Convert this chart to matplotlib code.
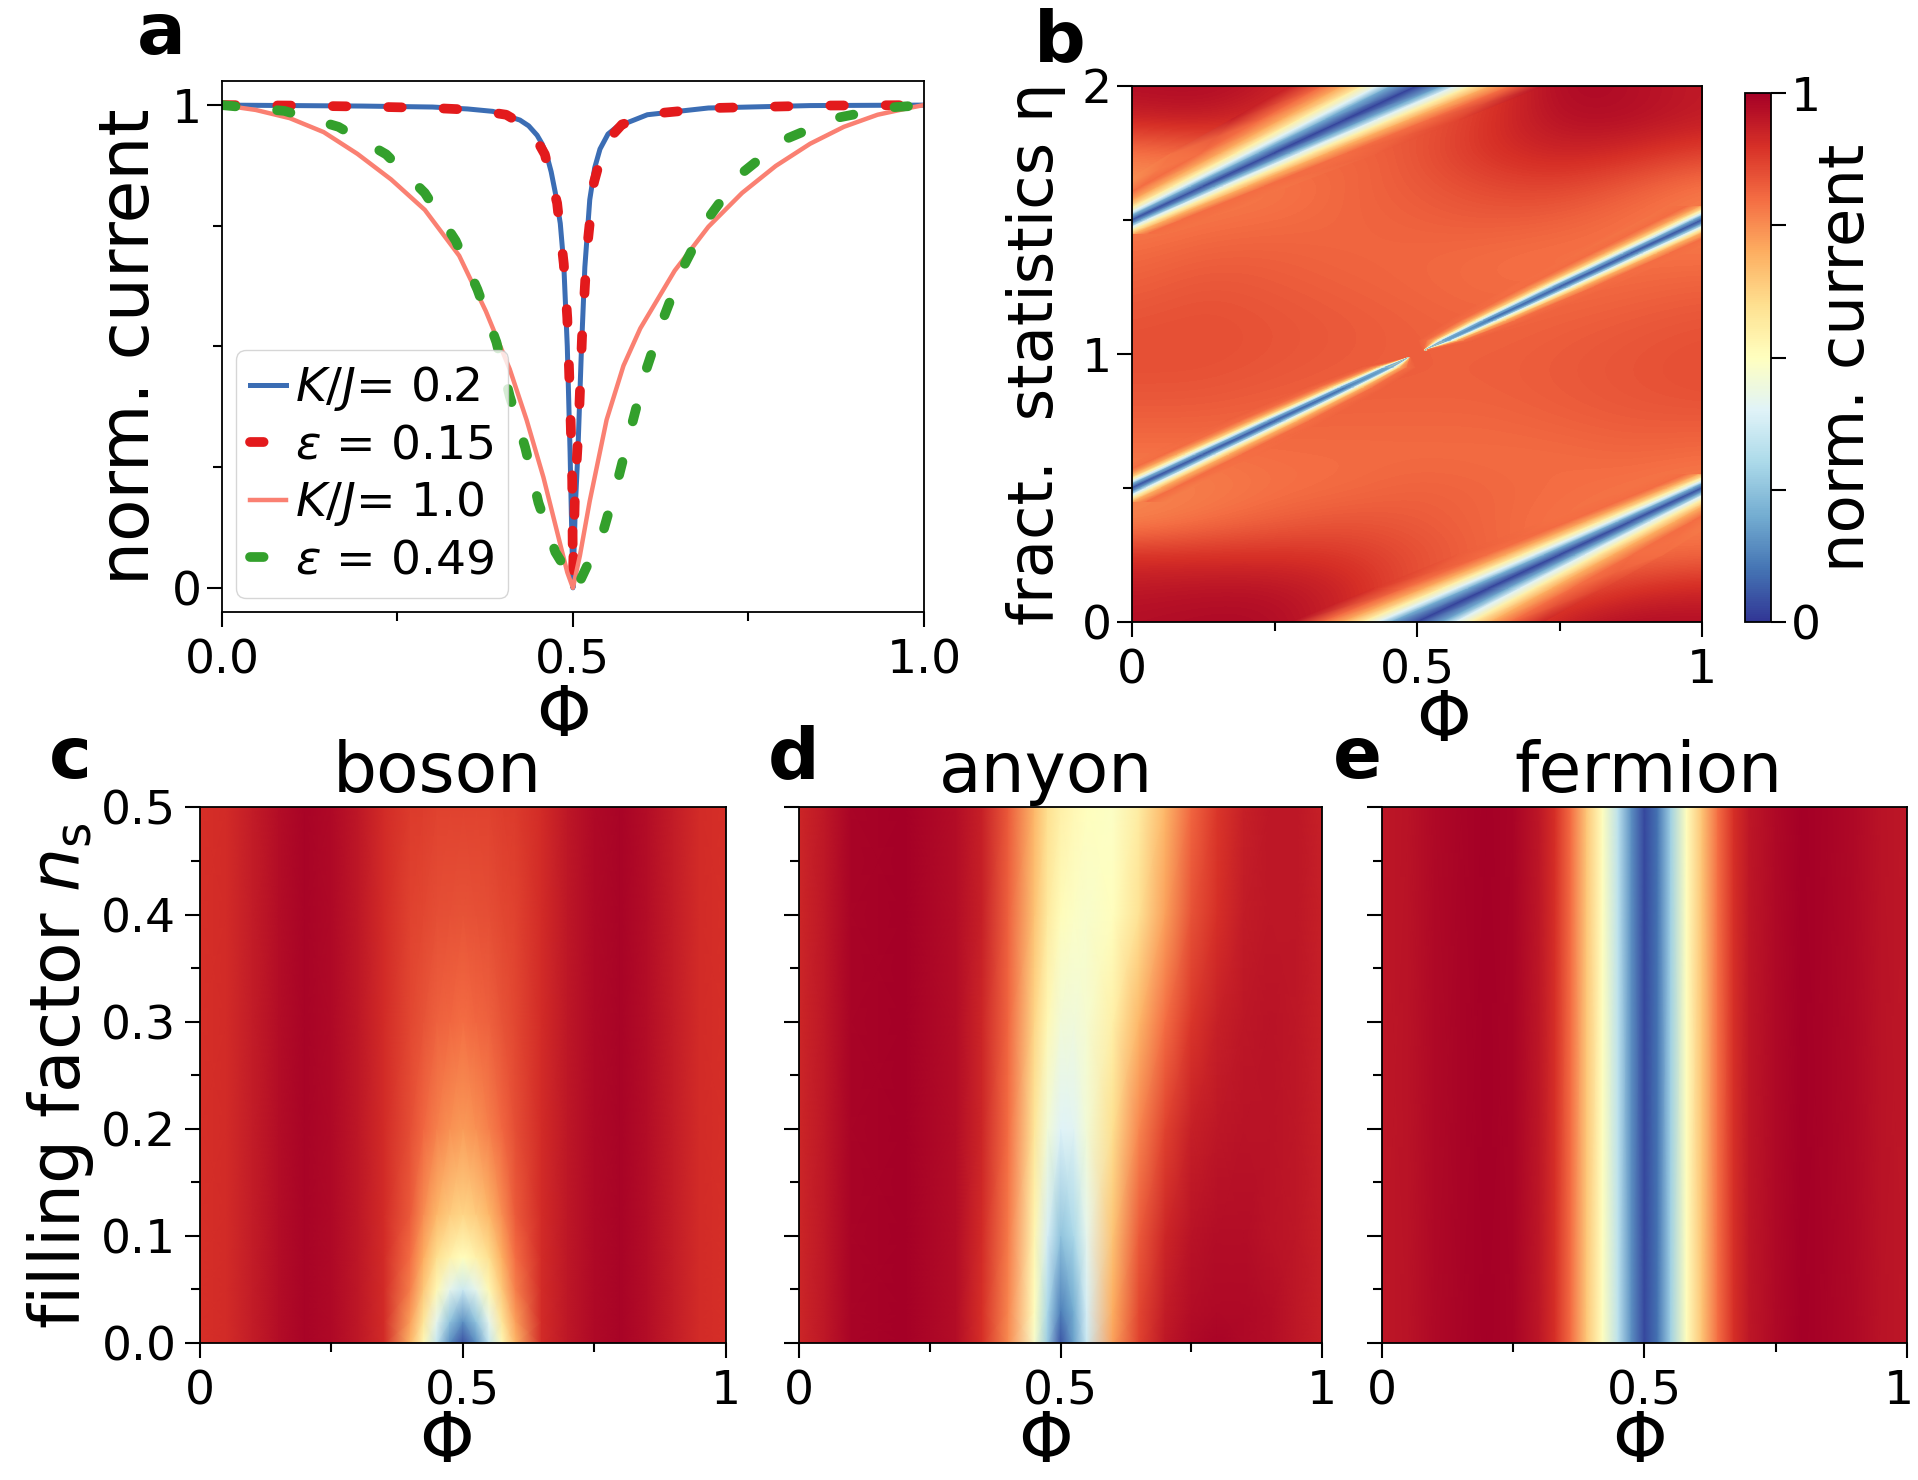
import matplotlib
matplotlib.use("Agg")
import matplotlib.pyplot as plt
from matplotlib.transforms import ScaledTranslation
import numpy as np

plt.rcParams['font.family'] = ['DejaVu Sans']
plt.rcParams['mathtext.fontset'] = 'dejavusans'

# ---------------- panel a : norm. current vs flux
phi_kj02 = [0, 0.1, 0.2, 0.3, 0.35, 0.386, 0.4245, 0.437, 0.449, 0.456, 0.463, 0.469, 0.475,
            0.482, 0.487, 0.492, 0.496, 0.5, 0.5035, 0.507, 0.512, 0.517, 0.524, 0.531,
            0.5386, 0.55, 0.5627, 0.606, 0.693, 0.838, 1.0]
cur_kj02 = [1.0, 0.999, 0.998, 0.996, 0.992, 0.987, 0.969, 0.957, 0.9375, 0.92, 0.895, 0.862, 0.818,
            0.755, 0.67, 0.50, 0.28, 0.0, 0.17, 0.278, 0.488, 0.664, 0.804, 0.87,
            0.909, 0.94, 0.955, 0.98, 0.994, 0.999, 1.0]

phi_eps015 = [0, 0.1, 0.2, 0.3, 0.36, 0.405, 0.44, 0.46, 0.4775, 0.487, 0.492, 0.4945,
              0.497, 0.499, 0.5, 0.503, 0.508, 0.513, 0.52, 0.53, 0.545, 0.57, 0.62,
              0.7, 0.85, 1.0]
cur_eps015 = [1.0, 0.999, 0.997, 0.994, 0.99, 0.98, 0.95, 0.898, 0.797, 0.671, 0.559, 0.453,
              0.334, 0.222, 0.02, 0.2, 0.33, 0.52, 0.70, 0.84, 0.92, 0.96, 0.983,
              0.994, 0.999, 1.0]

phi_kj10 = [0, 0.048, 0.0965, 0.145, 0.193, 0.241, 0.289, 0.338, 0.376, 0.41, 0.434,
            0.458, 0.4775, 0.492, 0.5, 0.51, 0.524, 0.548, 0.572, 0.596, 0.645, 0.693,
            0.741, 0.789, 0.838, 0.886, 0.934, 0.982, 1.0]
cur_kj10 = [1.0, 0.99, 0.973, 0.944, 0.899, 0.846, 0.783, 0.688, 0.573, 0.453, 0.348,
            0.229, 0.116, 0.032, 0.0, 0.067, 0.18, 0.348, 0.46, 0.5375, 0.657, 0.748,
            0.818, 0.874, 0.92, 0.955, 0.98, 0.995, 1.0]

phi_eps049 = [0.0, 0.089, 0.166, 0.234, 0.289, 0.333, 0.364, 0.391, 0.41, 0.432, 0.451,
              0.475, 0.506, 0.512, 0.543, 0.565, 0.584, 0.604, 0.628, 0.657, 0.693,
              0.739, 0.799, 0.874, 0.951, 1.0]
cur_eps049 = [1.0, 0.988, 0.955, 0.898, 0.818, 0.719, 0.618, 0.509, 0.397, 0.291, 0.176,
              0.074, 0.0, 0.02, 0.116, 0.229, 0.338, 0.45, 0.555, 0.664, 0.766,
              0.857, 0.927, 0.973, 0.995, 1.0]

# ---------------- panel b : background map (phi x eta)
b_phi = [0, 0.125, 0.25, 0.375, 0.5, 0.625, 0.75, 0.875, 1.0]
b_eta = [0, 0.125, 0.25, 0.375, 0.5, 0.625, 0.75, 0.875, 1.0,
         1.125, 1.25, 1.375, 1.5, 1.625, 1.75, 1.875, 2.0]
b_current = [
    [0.97, 0.98, 0.98, 0.92, 0.82, 0.82, 0.95, 0.98, 0.97],
    [0.95, 0.96, 0.96, 0.93, 0.84, 0.80, 0.82, 0.90, 0.92],
    [0.90, 0.90, 0.90, 0.89, 0.85, 0.81, 0.79, 0.79, 0.81],
    [0.75, 0.79, 0.82, 0.84, 0.83, 0.81, 0.79, 0.78, 0.77],
    [0.77, 0.77, 0.79, 0.80, 0.82, 0.81, 0.80, 0.79, 0.77],
    [0.79, 0.79, 0.80, 0.80, 0.80, 0.80, 0.80, 0.81, 0.80],
    [0.82, 0.82, 0.81, 0.81, 0.81, 0.81, 0.82, 0.83, 0.83],
    [0.84, 0.84, 0.83, 0.82, 0.82, 0.82, 0.83, 0.84, 0.85],
    [0.85, 0.85, 0.84, 0.83, 0.82, 0.82, 0.83, 0.84, 0.85],
    [0.84, 0.85, 0.84, 0.83, 0.82, 0.81, 0.82, 0.83, 0.84],
    [0.82, 0.84, 0.83, 0.82, 0.81, 0.80, 0.80, 0.81, 0.82],
    [0.80, 0.82, 0.82, 0.81, 0.81, 0.80, 0.79, 0.79, 0.79],
    [0.77, 0.79, 0.80, 0.81, 0.82, 0.83, 0.82, 0.79, 0.77],
    [0.73, 0.77, 0.78, 0.81, 0.83, 0.86, 0.87, 0.83, 0.78],
    [0.78, 0.80, 0.82, 0.80, 0.84, 0.90, 0.93, 0.91, 0.87],
    [0.93, 0.95, 0.90, 0.84, 0.82, 0.90, 0.97, 0.97, 0.94],
    [0.97, 0.98, 0.95, 0.86, 0.82, 0.87, 0.99, 0.97, 0.94],
]

# dips in panel b run along eta = phi + shift; for every eta node the
# half width (in phi) where the current reaches each level; the last
# width is where the dip has merged into the background
dip_levels = [0.2, 0.4, 0.55, 0.7, 0.8]

top_shift = 1.5
top_eta = [1.45, 1.5, 1.625, 1.75, 1.875, 2.0, 2.05]
top_core = [0.05, 0.05, 0.04, 0.03, 0.02, 0.02, 0.02]
top_half = [[0.015, 0.025, 0.037, 0.056, 0.080, 0.11],
            [0.016, 0.027, 0.041, 0.061, 0.087, 0.12],
            [0.021, 0.035, 0.053, 0.078, 0.108, 0.15],
            [0.027, 0.045, 0.066, 0.094, 0.128, 0.18],
            [0.035, 0.056, 0.081, 0.112, 0.147, 0.20],
            [0.045, 0.068, 0.095, 0.130, 0.165, 0.22],
            [0.048, 0.072, 0.102, 0.138, 0.175, 0.23]]

bot_shift = -0.5
bot_eta = [-0.05, 0.0, 0.125, 0.25, 0.375, 0.5, 0.55]
bot_core = [0.02, 0.02, 0.02, 0.03, 0.04, 0.05, 0.05]
bot_half = [[0.048, 0.072, 0.102, 0.138, 0.175, 0.23],
            [0.045, 0.068, 0.095, 0.130, 0.165, 0.22],
            [0.035, 0.056, 0.081, 0.112, 0.147, 0.20],
            [0.027, 0.045, 0.066, 0.094, 0.128, 0.18],
            [0.021, 0.035, 0.053, 0.078, 0.108, 0.15],
            [0.016, 0.027, 0.041, 0.061, 0.087, 0.12],
            [0.015, 0.025, 0.037, 0.056, 0.080, 0.11]]

mid_shift = 0.5
mid_lo_eta = [0.45, 0.5, 0.625, 0.75, 0.875, 0.95, 0.985]
mid_lo_core = [0.05, 0.05, 0.06, 0.07, 0.10, 0.2, 0.6]
mid_lo_half = [[0.016, 0.026, 0.037, 0.053, 0.077, 0.11],
               [0.015, 0.025, 0.036, 0.051, 0.075, 0.105],
               [0.013, 0.022, 0.032, 0.046, 0.068, 0.095],
               [0.012, 0.020, 0.028, 0.041, 0.061, 0.085],
               [0.009, 0.015, 0.022, 0.032, 0.048, 0.068],
               [0.006, 0.010, 0.015, 0.021, 0.033, 0.047],
               [0.0005, 0.001, 0.0015, 0.002, 0.003, 0.005]]
mid_hi_eta = [1.015, 1.05, 1.125, 1.25, 1.375, 1.5, 1.55]
mid_hi_core = [0.6, 0.2, 0.10, 0.07, 0.06, 0.05, 0.05]
mid_hi_half = [[0.0005, 0.001, 0.0015, 0.002, 0.003, 0.005],
               [0.006, 0.010, 0.015, 0.021, 0.033, 0.047],
               [0.009, 0.015, 0.022, 0.032, 0.048, 0.068],
               [0.012, 0.020, 0.028, 0.041, 0.061, 0.085],
               [0.013, 0.022, 0.032, 0.046, 0.068, 0.095],
               [0.015, 0.025, 0.036, 0.051, 0.075, 0.105],
               [0.016, 0.026, 0.037, 0.053, 0.077, 0.11]]

# ---------------- panel c : boson
c_phi = [0, 0.05, 0.1, 0.15, 0.2, 0.25, 0.3, 0.35, 0.4, 0.425, 0.45, 0.475, 0.5,
         0.525, 0.55, 0.575, 0.6, 0.65, 0.7, 0.75, 0.8, 0.85, 0.9, 0.95, 1.0]
c_ns = [0, 0.02, 0.05, 0.08, 0.12, 0.2, 0.3, 0.4, 0.5]
c_left = [0.90, 0.91, 0.94, 0.97, 0.99, 0.98, 0.95, 0.91]
c_right = [0.91, 0.95, 0.98, 0.99, 0.97, 0.94, 0.91, 0.90]
c_center = [
    [0.68, 0.52, 0.35, 0.15, 0.04, 0.15, 0.35, 0.52, 0.68],
    [0.72, 0.58, 0.42, 0.25, 0.15, 0.25, 0.42, 0.58, 0.72],
    [0.77, 0.65, 0.52, 0.42, 0.36, 0.42, 0.52, 0.65, 0.77],
    [0.80, 0.70, 0.60, 0.54, 0.50, 0.54, 0.60, 0.70, 0.80],
    [0.83, 0.75, 0.68, 0.64, 0.62, 0.64, 0.68, 0.75, 0.83],
    [0.85, 0.81, 0.77, 0.745, 0.73, 0.745, 0.77, 0.81, 0.85],
    [0.86, 0.84, 0.82, 0.81, 0.80, 0.81, 0.82, 0.84, 0.86],
    [0.87, 0.86, 0.85, 0.845, 0.84, 0.845, 0.85, 0.86, 0.87],
    [0.88, 0.875, 0.87, 0.87, 0.87, 0.87, 0.87, 0.875, 0.88],
]

# ---------------- panel d : anyon
d_phi = [0, 0.05, 0.1, 0.2, 0.3, 0.35, 0.4, 0.45, 0.475, 0.5, 0.525, 0.55, 0.6,
         0.65, 0.7, 0.75, 0.8, 0.85, 0.9, 0.95, 1.0]
d_ns = [0, 0.03, 0.1, 0.2, 0.3, 0.4, 0.5]
d_current = [
    [0.92, 0.95, 0.99, 1.0, 0.97, 0.90, 0.75, 0.48, 0.27, 0.05, 0.18, 0.36, 0.72, 0.87, 0.95, 0.98, 0.99, 0.98, 0.97, 0.95, 0.93],
    [0.92, 0.95, 0.99, 1.0, 0.97, 0.90, 0.76, 0.50, 0.30, 0.12, 0.20, 0.38, 0.70, 0.86, 0.94, 0.97, 0.98, 0.98, 0.97, 0.95, 0.93],
    [0.92, 0.95, 0.99, 1.0, 0.97, 0.91, 0.78, 0.53, 0.38, 0.25, 0.30, 0.42, 0.66, 0.83, 0.92, 0.96, 0.97, 0.97, 0.96, 0.95, 0.93],
    [0.92, 0.95, 0.99, 1.0, 0.97, 0.92, 0.80, 0.58, 0.46, 0.40, 0.41, 0.46, 0.60, 0.76, 0.87, 0.93, 0.95, 0.96, 0.96, 0.95, 0.93],
    [0.92, 0.95, 0.99, 1.0, 0.97, 0.92, 0.81, 0.62, 0.52, 0.46, 0.45, 0.47, 0.55, 0.68, 0.80, 0.89, 0.93, 0.95, 0.96, 0.95, 0.93],
    [0.92, 0.95, 0.99, 1.0, 0.97, 0.93, 0.82, 0.66, 0.57, 0.51, 0.49, 0.48, 0.50, 0.59, 0.72, 0.84, 0.90, 0.94, 0.95, 0.95, 0.93],
    [0.92, 0.95, 0.99, 1.0, 0.97, 0.93, 0.83, 0.68, 0.60, 0.55, 0.52, 0.50, 0.49, 0.56, 0.68, 0.81, 0.89, 0.93, 0.95, 0.95, 0.93],
]

# ---------------- panel e : fermion (no dependence on n_s)
e_phi = [0, 0.05, 0.1, 0.15, 0.2, 0.25, 0.3, 0.33, 0.36, 0.39, 0.42, 0.45, 0.475, 0.5,
         0.525, 0.55, 0.58, 0.61, 0.64, 0.67, 0.7, 0.75, 0.8, 0.85, 0.9, 0.95, 1.0]
e_ns = [0, 0.5]
e_profile = [0.95, 0.96, 0.98, 0.99, 1.0, 0.99, 0.95, 0.90, 0.80, 0.65, 0.50, 0.33, 0.15, 0.03,
             0.10, 0.28, 0.50, 0.66, 0.80, 0.90, 0.95, 0.98, 1.0, 0.99, 0.98, 0.96, 0.95]

cmap = 'RdYlBu_r'
tick_fs = 34
lab_fs = 50

fig = plt.figure(figsize=(19.18, 14.80), dpi=100)


def ticks(ax):
    ax.tick_params(which='major', length=11, width=1.5, labelsize=tick_fs)
    ax.tick_params(which='minor', length=6.5, width=1.5)
    ax.tick_params(axis='x', which='major', pad=8)
    for s in ax.spines.values():
        s.set_linewidth(1.3)


# ---- a
ax = fig.add_axes([0.1157, 0.5865, 0.366, 0.3588])
ax.plot(phi_kj02, cur_kj02, color='#3b6db4', lw=3.6, label=r'$K/J$= 0.2')
ax.plot(phi_eps015, cur_eps015, color='#e31a1c', lw=7, dashes=(1.4, 4.3),
        dash_capstyle='round', label=r'$\varepsilon$ = 0.15')
ax.plot(phi_kj10, cur_kj10, color='#fa8072', lw=3.2, label=r'$K/J$= 1.0')
ax.plot(phi_eps049, cur_eps049, color='#33a02c', lw=7, dashes=(1.4, 4.3),
        dash_capstyle='round', label=r'$\varepsilon$ = 0.49')
ax.set_xlim(0, 1)
ax.set_ylim(-0.05, 1.05)
ax.set_xticks([0, 0.5, 1])
ax.set_xticklabels(['0.0', '0.5', '1.0'])
ax.set_xticks([0.25, 0.75], minor=True)
ax.set_yticks([0, 1])
ax.set_yticklabels(['0', '1'])
ax.set_yticks([0.25, 0.5, 0.75], minor=True)
ticks(ax)
ax.set_xlabel('Φ', fontsize=lab_fs, labelpad=0)
ax.xaxis.label.set_x(0.487)
ax.set_ylabel('norm. current', fontsize=lab_fs, labelpad=6)
ax.legend(loc='lower left', fontsize=34, handlelength=0.75, handletextpad=0.2,
          labelspacing=0.22, borderpad=0.3, borderaxespad=0.3)

# ---- b
ax = fig.add_axes([0.5902, 0.5797, 0.2972, 0.3622])
dphi = b_phi[1] - b_phi[0]
deta = b_eta[1] - b_eta[0]
bg = ax.imshow(np.array(b_current), origin='lower', aspect='auto', cmap=cmap, vmin=0, vmax=1,
               interpolation='bicubic',
               extent=(b_phi[0] - dphi / 2, b_phi[-1] + dphi / 2, b_eta[0] - deta / 2, b_eta[-1] + deta / 2))


def bg_value(phi, eta):
    # bilinear lookup in the panel b table, so the dip edges blend in
    Z = np.array(b_current)
    fi = np.clip((np.asarray(phi) - b_phi[0]) / dphi, 0, len(b_phi) - 1)
    fj = np.clip((np.asarray(eta) - b_eta[0]) / deta, 0, len(b_eta) - 1)
    i0 = np.minimum(fi.astype(int), len(b_phi) - 2)
    j0 = np.minimum(fj.astype(int), len(b_eta) - 2)
    ti = fi - i0
    tj = fj - j0
    return (Z[j0, i0] * (1 - ti) * (1 - tj) + Z[j0, i0 + 1] * ti * (1 - tj)
            + Z[j0 + 1, i0] * (1 - ti) * tj + Z[j0 + 1, i0 + 1] * ti * tj)


def dip(ax, shift, eta, core, half):
    eta = np.asarray(eta, float)
    half = np.asarray(half, float)
    n = len(eta)
    offs = np.hstack([-half[:, ::-1], np.zeros((n, 1)), half])
    X = eta[:, None] - shift + offs
    Y = np.repeat(eta[:, None], offs.shape[1], axis=1)
    lev = np.tile(dip_levels, (n, 1))
    C = np.hstack([bg_value(X[:, :1], Y[:, :1]), lev[:, ::-1], np.asarray(core)[:, None],
                   lev, bg_value(X[:, -1:], Y[:, -1:])])
    ax.pcolormesh(X, Y, C, shading='gouraud', cmap=cmap, vmin=0, vmax=1)


dip(ax, top_shift, top_eta, top_core, top_half)
dip(ax, bot_shift, bot_eta, bot_core, bot_half)
dip(ax, mid_shift, mid_lo_eta, mid_lo_core, mid_lo_half)
dip(ax, mid_shift, mid_hi_eta, mid_hi_core, mid_hi_half)
ax.set_xlim(0, 1)
ax.set_ylim(0, 2)
ax.set_xticks([0, 0.5, 1])
ax.set_xticklabels(['0', '0.5', '1'])
ax.set_xticks([0.25, 0.75], minor=True)
ax.set_yticks([0, 1, 2])
ax.set_yticks([0.5, 1.5], minor=True)
ticks(ax)
ax.set_xlabel('Φ', fontsize=lab_fs, labelpad=-4)
ax.xaxis.label.set_x(0.546)
ax.set_ylabel('fract.  statistics η', fontsize=45, labelpad=11)

cax = fig.add_axes([0.9098, 0.5797, 0.01356, 0.3574])
cb = fig.colorbar(bg, cax=cax)
cb.set_ticks([0, 0.25, 0.5, 0.75, 1])
cb.set_ticklabels(['0', '', '', '', '1'])
cb.ax.tick_params(length=11, width=1.5, labelsize=tick_fs)
cb.outline.set_linewidth(1.3)
cb.set_label('norm. current', fontsize=45, labelpad=-3)

# ---- c, d, e
panels = [
    ([0.1043, 0.0926, 0.274, 0.3618], c_phi, c_ns,
     [c_left + row + c_right for row in c_center], 'boson', 0.451, 0.468),
    ([0.4166, 0.0926, 0.2727, 0.3618], d_phi, d_ns, d_current, 'anyon', 0.472, 0.472),
    ([0.7205, 0.0926, 0.2737, 0.3618], e_phi, e_ns, [e_profile for _ in e_ns], 'fermion', 0.508, 0.491),
]
for i, (pos, px, py, z, title, tx, lx) in enumerate(panels):
    ax = fig.add_axes(pos)
    P, N = np.meshgrid(px, py)
    ax.pcolormesh(P, N, np.array(z), shading='gouraud', cmap=cmap, vmin=0, vmax=1)
    ax.set_xlim(0, 1)
    ax.set_ylim(0, 0.5)
    ax.set_xticks([0, 0.5, 1])
    ax.set_xticklabels(['0', '0.5', '1'])
    ax.set_xticks([0.25, 0.75], minor=True)
    ax.set_yticks([0, 0.1, 0.2, 0.3, 0.4, 0.5])
    ax.set_yticks([0.05, 0.15, 0.25, 0.35, 0.45], minor=True)
    ticks(ax)
    ax.tick_params(axis='y', which='major', pad=6)
    if i == 0:
        ax.set_ylabel(r'filling factor $n_\mathrm{s}$', fontsize=lab_fs, labelpad=4)
    else:
        ax.set_yticklabels([])
    if i == 2:
        last = ax.get_xticklabels()[-1]
        last.set_transform(last.get_transform() + ScaledTranslation(-6 / 72, 0, fig.dpi_scale_trans))
    ax.set_xlabel('Φ', fontsize=lab_fs, labelpad=-4)
    ax.xaxis.label.set_x(lx)
    ax.text(tx, 1.029, title, transform=ax.transAxes, fontsize=lab_fs,
            ha='center', va='baseline')

# panel letters
for letter, x, y in [('a', 137, 54), ('b', 1034, 61), ('c', 49, 778),
                     ('d', 768, 778), ('e', 1333, 778)]:
    fig.text(x / 1918, 1 - y / 1480, letter, fontsize=52, fontweight='bold',
             ha='left', va='baseline')

fig.savefig('out.png', dpi=100)
